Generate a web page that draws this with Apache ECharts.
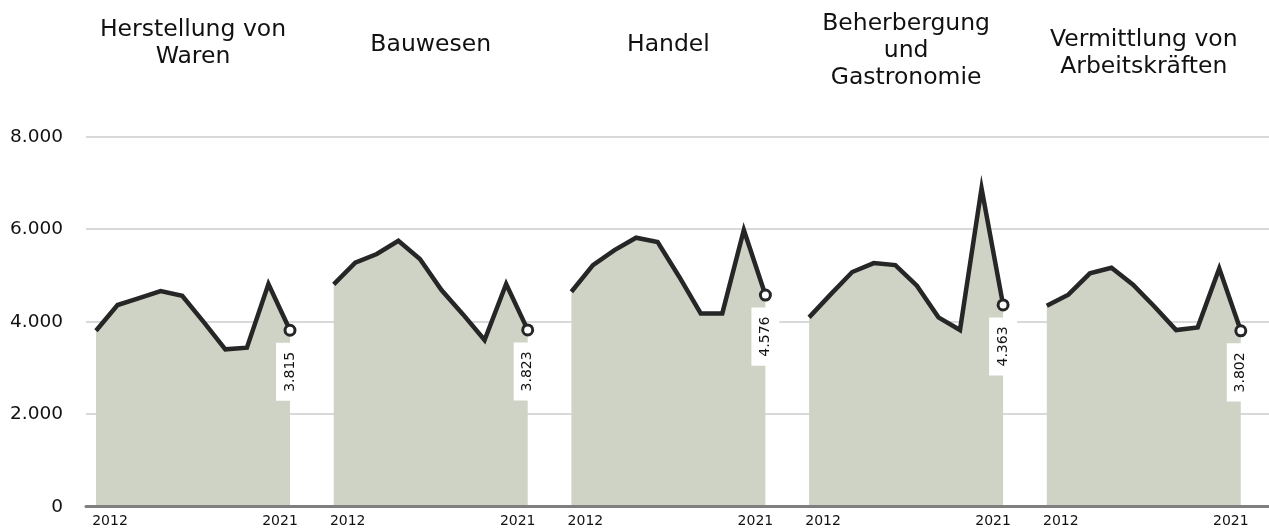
<!DOCTYPE html>
<html lang="de">
<head>
<meta charset="utf-8">
<title>Branchen 2012-2021</title>
<script src="https://cdn.jsdelivr.net/npm/echarts@6/dist/echarts.min.js"></script>
<style>
  html, body { margin: 0; padding: 0; background: #fff; }
  #chart { width: 1269px; height: 529px; }
</style>
</head>
<body>
<div id="chart"></div>
<script>
// Daten
var years = ['2012', '2013', '2014', '2015', '2016', '2017', '2018', '2019', '2020', '2021'];
var titles = ['Herstellung von\nWaren', 'Bauwesen', 'Handel', 'Beherbergung\nund\nGastronomie', 'Vermittlung von\nArbeitskräften'];
var yTicks = [0, 2000, 4000, 6000, 8000];

var warenValues = [3805, 4360, 4510, 4663, 4562, 3990, 3402, 3438, 4814, 3815];
var bauValues = [4807, 5275, 5463, 5751, 5355, 4685, 4158, 3604, 4814, 3823];
var handelValues = [4648, 5225, 5549, 5816, 5722, 4973, 4180, 4180, 5982, 4576];
var gastroValues = [4094, 4591, 5074, 5268, 5225, 4778, 4094, 3820, 6883, 4363];
var arbeitValues = [4346, 4584, 5045, 5167, 4800, 4324, 3820, 3877, 5153, 3802];

var panels = [warenValues, bauValues, handelValues, gastroValues, arbeitValues];

// Layout
var plotTop = 136.7, plotBottom = 22.3;
var panelLeft = 96, panelStep = 237.7, panelWidth = 194;
var titleTop = [16.5, 31.5, 31.5, 10, 26];
var font = 'DejaVu Sans';
var lineColor = '#262626';
var areaColor = '#cfd3c6';

function deNum(v) {
  return String(Math.round(v)).replace(/\B(?=(\d{3})+(?!\d))/g, '.');
}

var chart = echarts.init(document.getElementById('chart'));

var grids = [{ left: 86, right: 0, top: plotTop, bottom: plotBottom }];
var xAxes = [{
  gridIndex: 0, type: 'category', data: [], z: 10,
  axisLine: { show: true, lineStyle: { color: '#7f7f7f', width: 3 } },
  axisTick: { show: false }, axisLabel: { show: false }
}];
var yAxes = [{
  gridIndex: 0, type: 'value', min: yTicks[0], max: yTicks[yTicks.length - 1],
  interval: yTicks[1] - yTicks[0],
  axisLine: { show: false }, axisTick: { show: false },
  axisLabel: { margin: 23, color: '#111', fontFamily: font, fontSize: 18.5, formatter: deNum },
  splitLine: { lineStyle: { color: '#d9d9d9', width: 2 } }
}];
var series = [];
var title = [];

panels.forEach(function (vals, i) {
  var gi = i + 1;
  var left = panelLeft + i * panelStep;
  grids.push({ left: left, width: panelWidth, top: plotTop, bottom: plotBottom });
  xAxes.push({
    gridIndex: gi, type: 'category', data: years, boundaryGap: false,
    axisLine: { show: false }, axisTick: { show: false },
    axisLabel: {
      margin: 8, color: '#111', fontFamily: font, fontSize: 14,
      interval: function (idx) { return idx === 0 || idx === years.length - 1; },
      formatter: function (v, idx) { return idx === 0 ? '{l|' + v + '}' : '{r|' + v + '}'; },
      rich: {
        l: { fontFamily: font, fontSize: 14, color: '#111', padding: [0, 0, 0, 28] },
        r: { fontFamily: font, fontSize: 14, color: '#111', padding: [0, 20, 0, 0] }
      }
    }
  });
  yAxes.push({
    gridIndex: gi, type: 'value', min: yTicks[0], max: yTicks[yTicks.length - 1], show: false,
    splitLine: { show: false }
  });
  var data = vals.map(function (v, k) {
    if (k < vals.length - 1) return v;
    return {
      value: v,
      symbol: 'circle',
      symbolSize: 10,
      itemStyle: { color: '#fff', borderColor: lineColor, borderWidth: 3 },
      label: {
        show: true, position: 'bottom', distance: 6, rotate: 90,
        align: 'right', verticalAlign: 'middle',
        fontFamily: font, fontSize: 14, color: '#111',
        backgroundColor: '#fff', padding: [7, 9, 7, 9],
        formatter: function (p) { return deNum(p.value); }
      }
    };
  });
  series.push({
    type: 'line', xAxisIndex: gi, yAxisIndex: gi, data: data,
    symbol: 'none', showSymbol: true, animation: false,
    lineStyle: { color: lineColor, width: 4.5, join: 'miter' },
    areaStyle: { color: areaColor, opacity: 1 },
    z: 3
  });
  title.push({
    text: titles[i], padding: 0,
    left: left + panelWidth / 2, top: titleTop[i], textAlign: 'center',
    textStyle: { fontFamily: font, fontSize: 23.5, fontWeight: 'normal', color: '#111', lineHeight: 27 }
  });
});

chart.setOption({
  animation: false,
  title: title,
  grid: grids,
  xAxis: xAxes,
  yAxis: yAxes,
  series: series
});
</script>
</body>
</html>
